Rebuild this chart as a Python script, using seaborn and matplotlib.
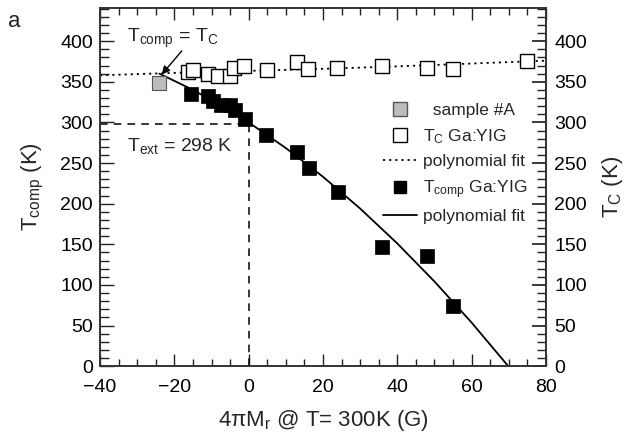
import numpy as np
import pandas as pd
import matplotlib
matplotlib.use("Agg")
import matplotlib.pyplot as plt
from matplotlib.lines import Line2D
from matplotlib.ticker import MultipleLocator
import seaborn as sns

# T_C of Ga:YIG (open squares)
tc_x = [-16.3, -14.9, -10.9, -8.3, -4.9, -3.9, -1.2, 5.0, 13.0, 16.0, 23.9, 35.9, 47.9, 55.0, 75.0]
tc_y = [362, 365, 360, 357, 357, 367, 370, 365, 374, 366, 367, 370, 367, 366, 376]

# T_comp of Ga:YIG (filled squares)
tcomp_x = [-15.4, -10.9, -9.6, -7.5, -5.0, -3.7, -1.0, 4.7, 13.1, 16.3, 24.1, 35.9, 47.9, 54.9]
tcomp_y = [335, 332, 326, 321, 321, 315, 304, 285, 264, 244, 214, 147, 135, 74]

# sample #A (grey square)
sample_x = [-24.1]
sample_y = [349]

# polynomial fits
fit_tc_x = [-40, -20, 0, 20, 40, 60, 80]
fit_tc_y = [358, 361, 363.5, 366, 369, 372.5, 376]
fit_tcomp_x = [-24, -15, -5, 0, 10, 20, 30, 40, 50, 60, 69.85]
fit_tcomp_y = [360, 340.1, 314.3, 300, 268.5, 233.1, 194, 151, 104.2, 53.6, 0]

T_EXT = 298
y_ticks = [0, 50, 100, 150, 200, 250, 300, 350, 400]
x_ticks = [-40, -20, 0, 20, 40, 60, 80]

sns.set_theme(style="ticks")
plt.rcParams['font.family'] = ['Liberation Sans', 'DejaVu Sans']
plt.rcParams['mathtext.fontset'] = 'custom'
plt.rcParams['mathtext.rm'] = 'Liberation Sans'
plt.rcParams['mathtext.it'] = 'Liberation Sans'

fig = plt.figure(figsize=(6.29, 4.38), dpi=100)
ax = fig.add_axes([0.159, 0.164, 0.709, 0.818])

# fits
sns.lineplot(x=fit_tc_x, y=fit_tc_y, ax=ax, color='black', lw=1.3,
             linestyle=(0, (1.2, 2.2)), sort=False, estimator=None)
sns.lineplot(x=fit_tcomp_x, y=fit_tcomp_y, ax=ax, color='black', lw=1.3,
             sort=False, estimator=None)

# guide lines for T_ext
ax.plot([-40, 0], [T_EXT, T_EXT], color='black', lw=1.1, linestyle=(0, (5, 4)))
ax.plot([0, 0], [0, T_EXT], color='black', lw=1.1, linestyle=(0, (5, 4)))

# markers
sns.scatterplot(x=tc_x, y=tc_y, ax=ax, marker='s', s=95, facecolor='white',
                edgecolor='black', linewidth=1.0, zorder=3)
sns.scatterplot(x=tcomp_x, y=tcomp_y, ax=ax, marker='s', s=95, color='black',
                edgecolor='black', linewidth=0.5, zorder=4)
sns.scatterplot(x=sample_x, y=sample_y, ax=ax, marker='s', s=95, color='#bdbdbd',
                edgecolor='#555555', linewidth=0.8, zorder=4)

ax.set_xlim(-40, 80)
ax.set_ylim(0, 441)
ax.set_xticks(x_ticks)
ax.xaxis.set_minor_locator(MultipleLocator(5))
ax.set_yticks(y_ticks)
ax.yaxis.set_minor_locator(MultipleLocator(10))
ax.tick_params(axis='both', which='both', direction='in', top=True, right=False,
               labelsize=14, width=1.0, colors='#222222', labelcolor='black')
ax.tick_params(axis='x', which='major', length=8.5, pad=9)
ax.tick_params(axis='x', which='minor', length=5)
ax.tick_params(axis='y', which='major', length=10, pad=5)
ax.tick_params(axis='y', which='minor', length=6.5)
for sp in ax.spines.values():
    sp.set_linewidth(1.2)
    sp.set_color('#333333')

ax.set_xlabel(r'4$\pi$M$_\mathregular{r}$ @ T= 300K (G)', fontsize=16, labelpad=9)
ax.set_ylabel(r'T$_\mathregular{comp}$ (K)', fontsize=16, labelpad=10)

# right axis
ax2 = ax.twinx()
ax2.set_ylim(ax.get_ylim())
ax2.set_yticks(y_ticks)
ax2.yaxis.set_minor_locator(MultipleLocator(10))
ax2.tick_params(axis='y', which='both', direction='in', labelsize=14, colors='#222222',
                labelcolor='black')
ax2.tick_params(axis='y', which='major', length=10, pad=6)
ax2.tick_params(axis='y', which='minor', length=6.5)
ax2.set_ylabel(r'T$_\mathregular{C}$ (K)', fontsize=16, labelpad=9)
for sp in ax2.spines.values():
    sp.set_linewidth(1.2)
    sp.set_color('#333333')

# annotations
ax.annotate('', xy=(-23.4, 359), xytext=(-18, 388),
            arrowprops=dict(arrowstyle='-|>', color='black', lw=1.0, shrinkA=0, shrinkB=0,
                            mutation_scale=12))
ax.text(-32.7, 399, r'T$_\mathregular{comp}$ = T$_\mathregular{C}$', fontsize=14,
        ha='left', va='baseline')
ax.text(-32.7, 265, r'T$_\mathregular{ext}$ = 298 K', fontsize=14, ha='left', va='baseline')
fig.text(0.012, 0.975, 'a', fontsize=16, ha='left', va='top')

# legend
handles = [
    Line2D([], [], marker='s', markersize=10.5, linestyle='none', markerfacecolor='#bdbdbd',
           markeredgecolor='#555555'),
    Line2D([], [], marker='s', markersize=9.5, linestyle='none', markerfacecolor='white',
           markeredgecolor='black'),
    Line2D([], [], color='black', lw=1.3, linestyle=(0, (1.2, 2.2))),
    Line2D([], [], marker='s', markersize=8, linestyle='none', color='black'),
    Line2D([], [], color='black', lw=1.3),
]
labels = ['  sample #A', r'T$_\mathregular{C}$ Ga:YIG', 'polynomial fit',
          r'T$_\mathregular{comp}$ Ga:YIG', 'polynomial fit']
ax.legend(handles, labels, loc='center left', bbox_to_anchor=(0.634, 0.565), frameon=False,
          fontsize=12.5, handlelength=2.0, handletextpad=0.3, labelspacing=0.5,
          borderpad=0, borderaxespad=0)

fig.savefig('out.png', dpi=100)
